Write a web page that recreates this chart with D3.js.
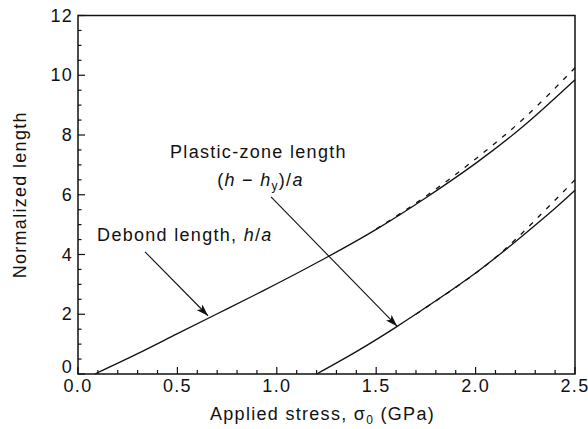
<!DOCTYPE html>
<html>
  <head>
    <meta charset="utf-8">
    <title>normalized length</title>
    <script src="https://cdn.jsdelivr.net/npm/d3@7"></script>
    <style>
      body { margin: 0; background: #fff; }
      text {
        font-family: "Liberation Sans", Arial, sans-serif;
        font-size: 18px;
        letter-spacing: 1.3px;
        fill: #111;
      }
      .frame { fill: none; stroke: #111; stroke-width: 1.5; }
      .tick { stroke: #111; stroke-width: 1.2; }
      .curve { fill: none; stroke: #111; stroke-width: 1.3; }
      .dashed { stroke-dasharray: 5, 7; }
      .arrow { stroke: #111; stroke-width: 1.1; }
    </style>
  </head>
  <body>
    <script>
    // data
    var debondX = [0.085, 0.3, 0.5, 0.75, 1.0, 1.25, 1.5, 1.75, 2.0, 2.25, 2.5];
    var debondY = [0, 0.68, 1.35, 2.18, 3.02, 3.9, 4.84, 5.9, 7.05, 8.35, 9.85];
    var debondDashX = [1.5, 1.75, 2.0, 2.25, 2.5];
    var debondDashY = [4.85, 5.95, 7.2, 8.6, 10.25];

    var plasticX = [1.2, 1.4, 1.6, 1.8, 2.0, 2.2, 2.4, 2.5];
    var plasticY = [0, 0.75, 1.57, 2.45, 3.38, 4.43, 5.55, 6.15];
    var plasticDashX = [1.7, 1.9, 2.1, 2.3, 2.5];
    var plasticDashY = [2.0, 2.9, 3.9, 5.15, 6.5];

    var xTicks = [0, 0.5, 1.0, 1.5, 2.0, 2.5];
    var yTicks = [0, 2, 4, 6, 8, 10, 12];

    var W = 588, H = 429;
    var margin = {top: 15.5, right: 13, bottom: 55, left: 78};
    var w = W - margin.left - margin.right;
    var h = H - margin.top - margin.bottom;

    var svg = d3.select('body').append('svg')
      .attr('width', W).attr('height', H);

    var defs = svg.append('defs');
    defs.append('marker')
      .attr('id', 'head')
      .attr('viewBox', '0 0 12 8')
      .attr('refX', 12).attr('refY', 4)
      .attr('markerWidth', 12).attr('markerHeight', 8)
      .attr('markerUnits', 'userSpaceOnUse')
      .attr('orient', 'auto')
      .append('path').attr('d', 'M0,0 L12,4 L0,8 L3,4 Z').attr('fill', '#111');

    var g = svg.append('g')
      .attr('transform', 'translate(' + margin.left + ',' + margin.top + ')');

    var x = d3.scaleLinear().domain([0, 2.5]).range([0, w]);
    var y = d3.scaleLinear().domain([0, 12]).range([h, 0]);

    // inward ticks, major + minor
    var xMinor = d3.range(0, 2.501, 0.1);
    var yMinor = d3.range(0, 12.01, 0.5);

    g.selectAll('.xt').data(xMinor).enter().append('line')
      .attr('class', 'tick')
      .attr('x1', d => x(d)).attr('x2', d => x(d))
      .attr('y1', h).attr('y2', d => h - (Math.abs(d * 2 - Math.round(d * 2)) < 1e-6 ? 7 : 4));

    g.selectAll('.yt').data(yMinor).enter().append('line')
      .attr('class', 'tick')
      .attr('y1', d => y(d)).attr('y2', d => y(d))
      .attr('x1', 0).attr('x2', d => (d % 2 === 0 ? 7 : 3.5));

    g.append('rect').attr('class', 'frame')
      .attr('x', 0).attr('y', 0).attr('width', w).attr('height', h);

    g.selectAll('.xl').data(xTicks).enter().append('text')
      .attr('x', d => x(d)).attr('y', h + 18)
      .attr('text-anchor', 'middle')
      .text(d => d.toFixed(1));

    g.selectAll('.yl').data(yTicks).enter().append('text')
      .attr('x', -5).attr('y', d => y(d) + (d === 0 ? -1 : 6))
      .attr('text-anchor', 'end')
      .text(d => d);

    // axis titles
    var xt = g.append('text')
      .attr('x', w / 2 - 4).attr('y', h + 46)
      .attr('text-anchor', 'middle');
    xt.append('tspan').text('Applied stress, σ');
    xt.append('tspan').attr('font-size', '12px').attr('dy', 4).text('0');
    xt.append('tspan').attr('dy', -4).text(' (GPa)');

    g.append('text')
      .attr('transform', 'translate(' + (-52) + ',' + (h / 2) + ') rotate(-90)')
      .attr('text-anchor', 'middle')
      .text('Normalized length');

    // curves
    var line = d3.line()
      .x(d => x(d[0])).y(d => y(d[1]))
      .curve(d3.curveNatural);

    function pts(xs, ys) { return xs.map((v, i) => [v, ys[i]]); }

    g.append('path').attr('class', 'curve').attr('d', line(pts(debondX, debondY)));
    g.append('path').attr('class', 'curve dashed').attr('d', line(pts(debondDashX, debondDashY)));
    g.append('path').attr('class', 'curve').attr('d', line(pts(plasticX, plasticY)));
    g.append('path').attr('class', 'curve dashed').attr('d', line(pts(plasticDashX, plasticDashY)));

    // annotations (data units)
    var arrows = [
      {from: [0.337, 4.09], to: [0.654, 1.95]},
      {from: [0.971, 5.93], to: [1.605, 1.60]}
    ];
    g.selectAll('.arrow').data(arrows).enter().append('line')
      .attr('class', 'arrow')
      .attr('x1', d => x(d.from[0])).attr('y1', d => y(d.from[1]))
      .attr('x2', d => x(d.to[0])).attr('y2', d => y(d.to[1]))
      .attr('marker-end', 'url(#head)');

    g.append('text')
      .attr('x', x(0.463)).attr('y', y(7.24))
      .text('Plastic-zone length');

    var t2 = g.append('text').attr('x', x(0.70)).attr('y', y(6.3));
    t2.append('tspan').text('(');
    t2.append('tspan').attr('font-style', 'italic').text('h');
    t2.append('tspan').text(' − ');
    t2.append('tspan').attr('font-style', 'italic').text('h');
    t2.append('tspan').attr('font-size', '12px').attr('dy', 4).text('y');
    t2.append('tspan').attr('dy', -4).text(')/');
    t2.append('tspan').attr('font-style', 'italic').text('a');

    var t3 = g.append('text').attr('x', x(0.096)).attr('y', y(4.46));
    t3.append('tspan').text('Debond length, ');
    t3.append('tspan').attr('font-style', 'italic').text('h');
    t3.append('tspan').text('/');
    t3.append('tspan').attr('font-style', 'italic').text('a');
    </script>
  </body>
</html>
